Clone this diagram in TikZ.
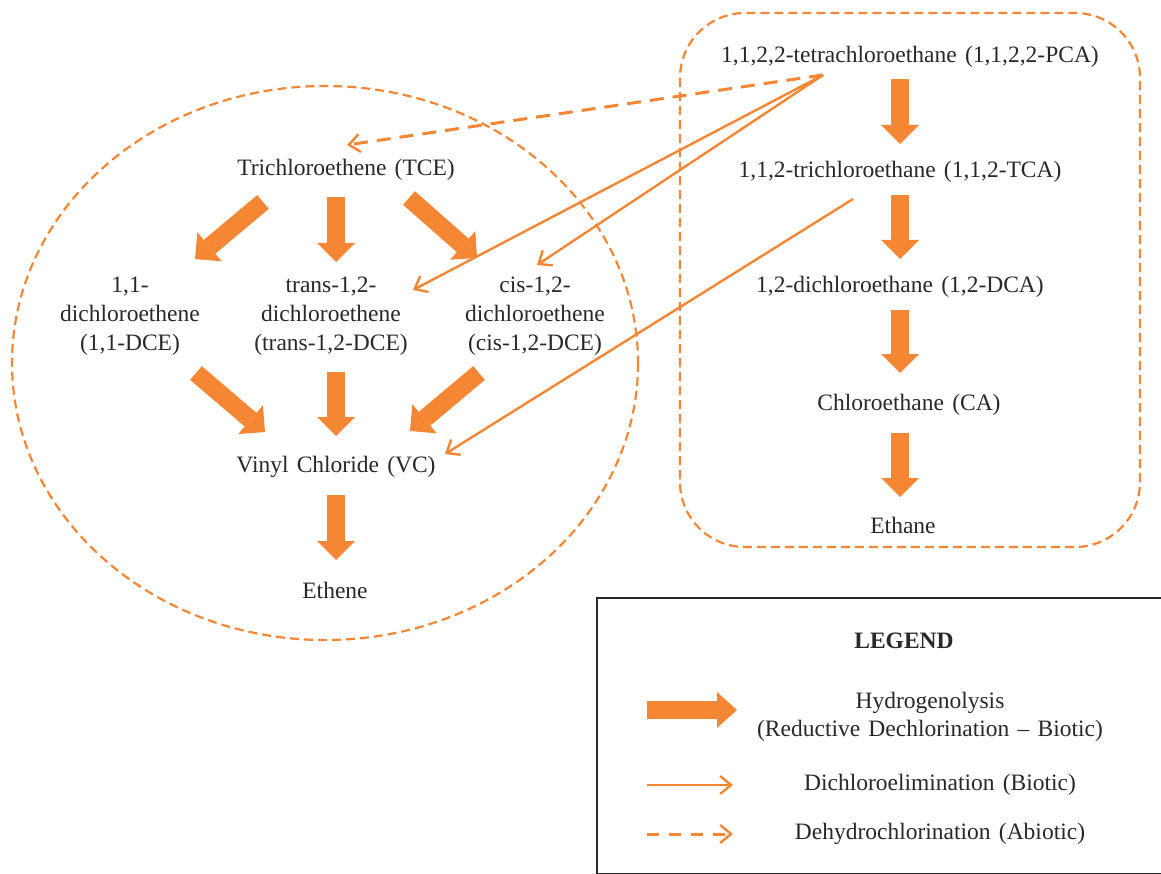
\documentclass[tikz,border=0pt]{standalone}
\usepackage{fontspec}
\setmainfont{Liberation Serif}[WordSpace=1.4]
\usetikzlibrary{arrows.meta,calc}
\definecolor{pathorange}{RGB}{245,134,52}
\definecolor{inkgray}{RGB}{40,40,40}

\begin{document}
\begin{tikzpicture}[x=1pt,y=-1pt,
  chem/.style={text=inkgray, align=center, inner sep=0pt,
    font=\fontsize{23.5}{29}\selectfont},
  hydro/.style={draw=pathorange, line width=18pt,
    -{Triangle[length=19pt,width=38pt,line width=0pt]}},
  dichloro/.style={draw=pathorange, line width=2.4pt,
    -{Straight Barb[length=11pt,width=18pt]}},
  dehydro/.style={draw=pathorange, line width=3pt, dash pattern=on 14pt off 9pt,
    -{Straight Barb[length=11pt,width=18pt,line width=2.4pt]}},
  zone/.style={draw=pathorange, line width=2.2pt, dash pattern=on 9pt off 5pt},
]
\useasboundingbox (0,0) rectangle (1161,874);
\clip (0,0) rectangle (1161,874);

% groups of compounds
\draw[zone] (325,363) ellipse [x radius=313, y radius=277];
\draw[zone, rounded corners=65pt] (680,13) rectangle (1140,547);

% chlorinated ethenes
\node[chem] (tce)   at (346,170) {Trichloroethene (TCE)};
\node[chem] (dce11) at (130,316) {1,1-\\dichloroethene\\(1,1-DCE)};
\node[chem] (trans) at (331,316) {trans-1,2-\\dichloroethene\\(trans-1,2-DCE)};
\node[chem] (cis)   at (535,316) {cis-1,2-\\dichloroethene\\(cis-1,2-DCE)};
\node[chem] (vc)    at (336,467) {Vinyl Chloride (VC)};
\node[chem] (ethene) at (335,590) {Ethene};

% chlorinated ethanes
\node[chem] (pca)    at (910,57)  {1,1,2,2-tetrachloroethane (1,1,2,2-PCA)};
\node[chem] (tca)    at (900,172) {1,1,2-trichloroethane (1,1,2-TCA)};
\node[chem] (dca)    at (900,287) {1,2-dichloroethane (1,2-DCA)};
\node[chem] (ca)     at (909,405) {Chloroethane (CA)};
\node[chem] (ethane) at (903,525) {Ethane};

% hydrogenolysis steps
\draw[hydro] ($(tce)+(-83,32)$) -- ($(dce11)+(65,-57)$);
\draw[hydro] ($(tce)+(-10,27)$) -- ($(trans)+(5,-54)$);
\draw[hydro] ($(tce)+(63,28)$)  -- ($(cis)+(-58,-58)$);
\draw[hydro] ($(dce11)+(66,57)$) -- ($(vc)+(-71,-35)$);
\draw[hydro] ($(trans)+(5,56)$)  -- ($(vc)+(0,-31)$);
\draw[hydro] ($(cis)+(-56,57)$)  -- ($(vc)+(74,-36)$);
\draw[hydro] ($(vc)+(0,28)$)     -- ($(ethene)+(1,-30)$);
\draw[hydro] ($(pca)+(-10,22)$)  -- ($(tca)+(0,-28)$);
\draw[hydro] ($(tca)+(0,23)$)    -- ($(dca)+(0,-28)$);
\draw[hydro] ($(dca)+(0,23)$)    -- ($(ca)+(-9,-32)$);
\draw[hydro] ($(ca)+(-9,28)$)    -- ($(ethane)+(-3,-28)$);

% dichloroelimination and dehydrochlorination
\coordinate (pcaout) at ($(pca)+(-87,18)$);
\coordinate (tcaout) at ($(tca)+(-47,27)$);
\draw[dehydro]  (pcaout) -- ($(tce)+(1,-25)$);
\draw[dichloro] (pcaout) -- ($(trans)+(82,-26)$);
\draw[dichloro] (pcaout) -- ($(cis)+(2,-51)$);
\draw[dichloro] (tcaout) -- ($(vc)+(109,-13)$);

% legend
\draw[draw=inkgray, line width=2.6pt] (597,598) rectangle (1162.5,874.3);
\node[chem] (legendtitle) at (904,641) {\bfseries LEGEND};
\coordinate (keyA1) at (647,710); \coordinate (keyA2) at (737,710);
\coordinate (keyB1) at (647,785); \coordinate (keyB2) at (733,785);
\coordinate (keyC1) at (647,834); \coordinate (keyC2) at (733,834);
\draw[hydro, -{Triangle[length=20pt,width=36pt,line width=0pt]}] (keyA1) -- (keyA2);
\draw[dichloro] (keyB1) -- (keyB2);
\draw[dehydro, dash pattern=on 12pt off 10pt] (keyC1) -- (keyC2);
\node[chem, font=\fontsize{23.5}{28}\selectfont] (keyAtext) at (930,717)
  {Hydrogenolysis\\(Reductive Dechlorination – Biotic)};
\node[chem] (keyBtext) at (940,785) {Dichloroelimination (Biotic)};
\node[chem] (keyCtext) at (940,834) {Dehydrochlorination (Abiotic)};
\end{tikzpicture}
\end{document}
